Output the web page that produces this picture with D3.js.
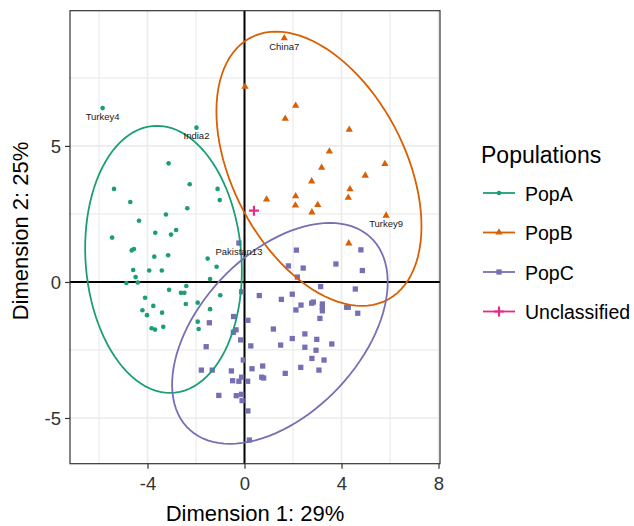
<!DOCTYPE html>
<html><head><meta charset="utf-8">
<script src="https://cdn.jsdelivr.net/npm/d3@7"></script>
<style>body{margin:0;background:#fff;} svg{display:block;font-family:"Liberation Sans",Arial,sans-serif;}</style>
</head><body><svg id="c" width="634" height="526"></svg>
<script>
const popA = [[-5.85,6.39],[-1.98,5.67],[-3.13,4.36],[-5.38,3.42],[-2.26,3.59],[-1.11,3.42],[-1.02,3.01],[-4.71,2.94],[-2.36,2.71],[-3.24,2.48],[-4.35,2.25],[-3.68,1.81],[-2.82,1.91],[-3.03,1.74],[-5.46,1.63],[-4.56,1.21],[-4.65,1.16],[-3.72,0.93],[-3.15,0.98],[-1.52,0.86],[-1.15,0.56],[-4.59,0.44],[-3.93,0.42],[-3.41,0.42],[-4.49,0.18],[-1.42,0.11],[-4.87,-0.04],[-4.40,-0.02],[-2.40,-0.15],[-3.11,-0.29],[-2.62,-0.40],[-2.48,-0.40],[-1.00,-0.49],[-4.10,-0.58],[-3.76,-0.88],[-2.42,-0.81],[-1.93,-0.76],[-4.21,-1.04],[-1.42,-1.00],[-3.40,-1.13],[-4.02,-1.22],[-3.35,-1.65],[-1.93,-1.46],[-1.89,-1.73],[-3.83,-1.70],[-3.69,-1.75]];
const popB = [[1.64,8.96],[0.02,7.18],[2.11,6.48],[1.68,6.00],[4.32,5.60],[3.50,4.80],[5.79,4.34],[3.18,4.20],[4.98,3.91],[2.77,3.70],[0.91,3.03],[2.11,3.15],[4.35,3.41],[4.28,3.10],[2.10,2.81],[3.02,2.83],[2.78,2.56],[5.84,2.44],[4.30,1.42]];
const popC = [[-0.23,1.43],[-0.12,-0.36],[-0.45,-1.27],[0.61,-0.50],[1.52,-0.64],[1.97,-0.45],[2.12,-1.03],[2.33,-0.85],[2.77,-0.78],[2.84,-0.74],[3.14,-0.17],[3.21,-0.81],[3.21,-0.93],[3.21,-1.06],[3.11,-1.34],[4.57,-0.26],[4.21,-0.93],[4.28,-0.93],[4.67,-1.15],[-1.45,-1.50],[0.14,-1.41],[-0.46,-1.85],[-0.35,-1.76],[1.19,-1.73],[2.49,-1.91],[1.97,-2.08],[2.98,-2.11],[3.60,-2.28],[-0.16,-2.13],[-1.58,-2.38],[0.26,-2.35],[1.49,-2.32],[2.49,-2.40],[2.95,-2.51],[2.78,-2.81],[3.28,-2.87],[-0.05,-2.87],[-1.78,-3.24],[-1.33,-3.24],[-0.54,-3.27],[0.31,-3.19],[0.75,-3.09],[2.32,-3.14],[3.07,-3.24],[-0.49,-3.63],[-0.23,-3.65],[-0.12,-3.50],[0.13,-3.65],[0.71,-3.50],[0.79,-3.53],[1.68,-3.36],[-1.06,-4.17],[-0.34,-4.18],[-0.12,-4.13],[-0.10,-4.36],[0.14,-4.74],[0.20,-5.81],[2.14,1.17],[4.80,1.18],[1.81,0.59],[2.42,0.51],[3.77,0.66],[4.86,0.42],[2.18,0.18]];
const unclassified = [[0.39,2.62]];
const pointLabels = [["Turkey4",-5.85,6.39],["India2",-1.98,5.67],["China7",1.64,8.96],["Turkey9",5.84,2.44],["Pakistan13",-0.23,1.43]];
const groups = ["PopA","PopB","PopC","Unclassified"];
const colors = ["#1B9E77","#D95F02","#7570B3","#E7298A"];
// ellipse: center, conjugate semi-axis a, conjugate semi-axis b (data units)
const ellCenter = [[-3.34,0.83],[3.07,4.16],[1.46,-1.89]];
const ellA = [[-0.27,4.91],[-1.77,5.04],[2.06,4.06]];
const ellB = [[3.22,0],[3.84,0],[3.94,0]];
const xTicks = [-4,0,4,8], xMinor = [-6,-2,2,6];
const yTicks = [-5,0,5], yMinor = [-2.5,2.5,7.5];

const W=634,H=526, L=70, R=440, T=10.7, B=463.7;
const svg = d3.select("#c");
const x = d3.scaleLinear().domain([-7.196,8.062]).range([L,R]);
const y = d3.scaleLinear().domain([-6.68,9.97]).range([B,T]);

const g = svg.append("g");
// grid
g.selectAll(".gxm").data(xMinor).join("line").attr("x1",d=>x(d)).attr("x2",d=>x(d)).attr("y1",T).attr("y2",B).attr("stroke","#ebebeb").attr("stroke-width",1.2);
g.selectAll(".gym").data(yMinor).join("line").attr("y1",d=>y(d)).attr("y2",d=>y(d)).attr("x1",L).attr("x2",R).attr("stroke","#ebebeb").attr("stroke-width",1.2);
g.selectAll(".gx").data(xTicks).join("line").attr("x1",d=>x(d)).attr("x2",d=>x(d)).attr("y1",T).attr("y2",B).attr("stroke","#ebebeb").attr("stroke-width",1.6);
g.selectAll(".gy").data(yTicks).join("line").attr("y1",d=>y(d)).attr("y2",d=>y(d)).attr("x1",L).attr("x2",R).attr("stroke","#ebebeb").attr("stroke-width",1.6);
// zero lines
g.append("line").attr("x1",x(0)).attr("x2",x(0)).attr("y1",T).attr("y2",B).attr("stroke","#000").attr("stroke-width",2);
g.append("line").attr("y1",y(0)).attr("y2",y(0)).attr("x1",L).attr("x2",R).attr("stroke","#000").attr("stroke-width",2);

const sym = [d3.symbolCircle, d3.symbolTriangle, d3.symbolSquare, d3.symbolCross];
function drawPts(data, i, size){
  g.append("g").selectAll("path").data(data).join("path")
   .attr("transform",d=>`translate(${x(d[0])},${y(d[1])})`)
   .attr("d",d3.symbol().type(sym[i]).size(size))
   .attr("fill",colors[i]);
}
drawPts(popA,0,17);
drawPts(popB,1,23);
drawPts(popC,2,28);
// plus
g.append("g").selectAll("path").data(unclassified).join("path")
  .attr("transform",d=>`translate(${x(d[0])},${y(d[1])})`)
  .attr("d","M-5,0H5M0,-5V5").attr("stroke",colors[3]).attr("stroke-width",2.2).attr("fill","none");

// ellipses
const ts = d3.range(0,101).map(k=>k/100*2*Math.PI);
ellCenter.forEach((c,i)=>{
  const pts = ts.map(t=>[c[0]+ellA[i][0]*Math.cos(t)+ellB[i][0]*Math.sin(t), c[1]+ellA[i][1]*Math.cos(t)+ellB[i][1]*Math.sin(t)]);
  g.append("path").attr("d",d3.line().x(p=>x(p[0])).y(p=>y(p[1]))(pts))
   .attr("fill","none").attr("stroke",colors[i]).attr("stroke-width",1.8);
});

// labels
g.selectAll(".lab").data(pointLabels).join("text")
  .attr("x",d=>x(d[1])).attr("y",d=>y(d[2])+11.5).attr("text-anchor","middle")
  .attr("font-size",9.5).attr("fill","#1a1a1a").text(d=>d[0]);

// border
g.append("rect").attr("x",L).attr("y",T).attr("width",R-L).attr("height",B-T).attr("fill","none").attr("stroke","#333").attr("stroke-width",1.2);

// axes
const fmt = d => String(d);
const xa = svg.append("g").attr("transform",`translate(0,${B})`).call(d3.axisBottom(x).tickValues(xTicks).tickSize(5).tickPadding(5).tickFormat(fmt));
const ya = svg.append("g").attr("transform",`translate(${L},0)`).call(d3.axisLeft(y).tickValues(yTicks).tickSize(5).tickPadding(4).tickFormat(fmt));
[xa,ya].forEach(a=>{a.select(".domain").remove(); a.selectAll(".tick line").attr("stroke","#333").attr("stroke-width",1.2); a.selectAll("text").attr("font-size",18.5).attr("fill","#333").attr("font-family","Liberation Sans, Arial, sans-serif");});
xa.selectAll("text").attr("dy","0.75em").attr("y",12);
ya.selectAll("text").attr("dy","0.35em").attr("x",-9);

svg.append("text").attr("x",(L+R)/2).attr("y",521).attr("text-anchor","middle").attr("font-size",22).attr("fill","#000").text("Dimension 1: 29%");
svg.append("text").attr("transform","translate(28,231) rotate(-90)").attr("text-anchor","middle").attr("font-size",22).attr("fill","#000").text("Dimension 2: 25%");

// legend
const lg = svg.append("g");
lg.append("text").attr("x",481).attr("y",162.5).attr("font-size",23).attr("fill","#000").text("Populations");
groups.forEach((gr,i)=>{
  const cy = 193 + i*39.5;
  lg.append("line").attr("x1",483).attr("x2",515).attr("y1",cy).attr("y2",cy).attr("stroke",colors[i]).attr("stroke-width",1.8);
  if(i<3){
    lg.append("path").attr("transform",`translate(499,${cy})`).attr("d",d3.symbol().type(sym[i]).size([17,23,28][i])).attr("fill",colors[i]);
  } else {
    lg.append("path").attr("transform",`translate(499,${cy})`).attr("d","M-5,0H5M0,-5V5").attr("stroke",colors[i]).attr("stroke-width",2.2);
  }
  lg.append("text").attr("x",525).attr("y",cy+7.5).attr("font-size",19.5).attr("fill","#000").text(gr);
});
</script></body></html>
